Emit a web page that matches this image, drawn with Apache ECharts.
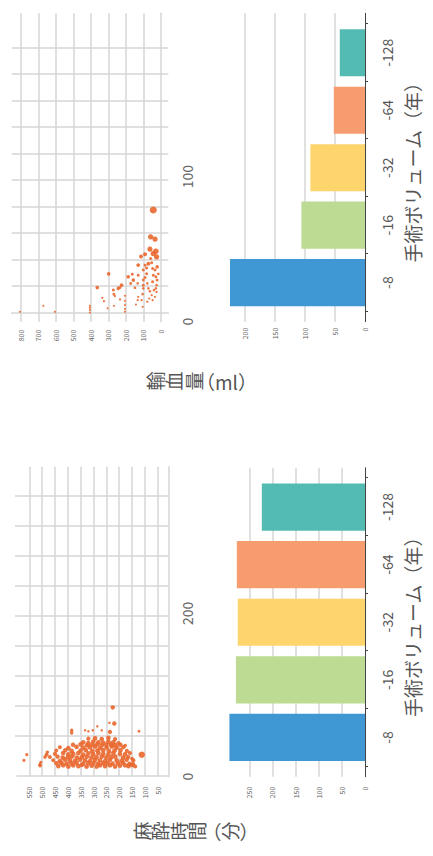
<!DOCTYPE html>
<html>
<head>
<meta charset="utf-8">
<script src="https://cdn.jsdelivr.net/npm/echarts@6/dist/echarts.min.js"></script>
<style>
  html, body { margin: 0; padding: 0; background: #fff; overflow: hidden; }
  /* the chart is laid out landscape (856x433) and turned a quarter to fit the page */
  #main {
    position: absolute; left: 0; top: 0;
    width: 856px; height: 433px;
    transform-origin: 0 0;
    transform: translate(0, 856px) rotate(-90deg);
  }
</style>
</head>
<body>
<div id="main"></div>
<script>
// 手術ボリューム（年）
const volumeCategories = ['-8', '-16', '-32', '-64', '-128'];
// 麻酔時間（分）
const anesthesiaMinutes = [293, 279, 275, 277, 223];
// 輸血量（ml）
const transfusionMl = [225, 106, 91, 52, 42];

const anesthesiaXTicks = [0, 200];
const transfusionXTicks = [0, 100];

// [volume, minutes, cases]
const anesthesiaPoints = [
  [13.5,508,14],[13,437,22],[14,418,22],[12.5,398,22],[14,379,22],[13,359,22],[14.5,346,22],[12.5,327,22],[13.5,307,22],[12.5,288,22],
  [14,275,22],[13,255,22],[14,236,22],[12.5,216,22],[13.5,197,22],[14,177,22],[13,164,22],[14.5,151,22],[12.5,138,18],
  [16.5,445,20],[17,425,22],[16,405,22],[16.5,386,22],[17,366,22],[16,340,22],[16.5,320,22],[17,300,22],[16,282,22],[16.5,262,22],
  [17,245,22],[16,226,22],[16.5,205,22],[17,185,22],[16,160,20],
  [20,457,16],[19,431,22],[21,411,22],[20,392,22],[19.5,372,22],[21,353,22],[20,333,22],[19,314,22],[21,294,22],[20,275,22],
  [19,255,22],[21,236,22],[20,210,22],[19.5,190,22],[21,171,22],[20,145,18],
  [24,470,16],[24.5,440,20],[23.5,420,22],[24,400,22],[24.5,385,22],[23.5,365,22],[24,345,22],[24.5,326,22],[23.5,308,22],[24,288,22],
  [24.5,268,22],[23.5,250,22],[24,230,22],[24.5,215,22],[23.5,185,22],[24,165,20],
  [27,483,16],[28,450,18],[29,418,22],[27.5,398,22],[28,379,22],[29,359,22],[27,340,22],[28.5,320,22],[27.5,301,22],[29,281,22],
  [28,262,22],[27,242,22],[29,223,22],[28,197,22],[27.5,177,22],[29,158,18],
  [32,445,16],[32.5,410,20],[31.5,385,22],[32,350,22],[32.5,330,22],[31.5,305,22],[32,285,22],[32.5,262,22],[31.5,240,22],[32,218,22],
  [32.5,195,22],[31.5,170,18],
  [36,431,16],[35,398,22],[36.5,366,22],[35.5,340,22],[36,314,22],[37,294,22],[35,275,22],[36,249,22],[37,229,22],[35.5,210,22],[36,184,18],
  [39,380,20],[39.5,350,22],[38.5,325,22],[39,305,22],[39.5,285,22],[38.5,268,22],[39,250,22],[39.5,232,22],[38.5,215,22],[39,195,20],
  [42,340,22],[41,320,22],[43,301,22],[42,281,22],[41.5,262,22],[43,242,22],[42,223,22],[41,203,18],
  [46.5,320,18],[47,294,22],[46,268,22],[47.5,242,22],[46,216,18],
  [20,571,10],[27,560,10],[17.7,505,10],[15,509,10],[24,489,12],[30,480,12],[27,112,42],[55.6,123,8],
  [84.8,225,20],[65,219,20],[66,238,6],[54.7,236,20],[56.8,268,6],[61.7,285,6],[56.8,303,6],[55.6,320,6],
  [56.8,333,6],[56.8,385,12],[53.5,385,12],[38,177,14],[22,150,14],[15.6,145,14]
];

// [volume, ml, cases]
const transfusionPoints = [
  [6.9,805,4],[11,671,4],[6.9,605,4],[11,405,4],[9.6,405,4],[8,405,4],[6.4,405,4],
  [23.6,363,13],[16.5,334,5],[14.2,325,5],[33,298,13],[9.2,304,4],
  [19,268,9],[21.8,271,9],[17.7,262,5],[11,268,4],
  [23,243,13],[23.6,233,9],[25.2,224,13],[15.4,233,5],
  [17.9,205,5],[14.4,205,4],[11.5,205,4],[8.7,205,4],[6.9,205,4],
  [31,186,13],[32.8,163,9],[26.4,172,9],[28.7,157,13],[23.4,148,7],[26.4,132,7],[32,129,9],[17.2,129,5],[14.9,132,5],[11.9,142,4],[14.9,110,5],
  [39,129,13],[45,113,16],[46.6,90,16],[35.6,100,9],[28.7,100,9],[25.2,100,9],[23,100,7],[19,104,7],[10.3,104,4],
  [30.5,90,9],[39,90,9],[33,81,9],[37,81,9],[26.4,77,7],[23,71,7],[21,62,7],[40,71,16],
  [50,62,28],[58.5,58,28],[57,33,28],[48.6,28,32],[77,43,50],
  [40.6,52,9],[36.7,47,9],[32,43,9],[27.5,47,9],[35.6,33,9],[31,28,9],[25.2,24,7],[21.8,39,7],[18.3,52,5],[14.9,47,5],
  [16,66,5],[13.8,77,5],[23,28,7],[37.8,21,13],[28.7,21,9],[44.7,24,28],[47,43,28],[43.6,58,9],[17.2,33,5],[20.6,24,5],[33,14,7]
];

const barPalette = ['#3f97d4', '#bedb94', '#fed46d', '#f79c6f', '#54bbb3'];
const dotColor = '#e9672d';
const gridGray = '#d6d6d6';
const axisDark = '#444';
const tickGray = '#666';
const nameGray = '#555';
const FONT = '"Noto Sans CJK JP", "Noto Sans", sans-serif';

const chart = echarts.init(document.getElementById('main'), null, { renderer: 'svg' });

// hidden axis that only draws evenly spaced vertical grid lines
function lineAxis(gridIndex, max) {
  return {
    gridIndex, type: 'value', min: 0, max, interval: 1,
    axisLine: { show: false }, axisTick: { show: false }, axisLabel: { show: false },
    splitLine: { show: true, showMinLine: false, showMaxLine: false, lineStyle: { color: gridGray, width: 1.5 } }
  };
}
function blankAxis(gridIndex, extra) {
  return Object.assign({
    gridIndex, type: 'value', min: 0, max: 1,
    axisLine: { show: false }, axisTick: { show: false }, axisLabel: { show: false }, splitLine: { show: false }
  }, extra || {});
}
function smallValueAxis(gridIndex, min, max, step, margin) {
  return {
    gridIndex, type: 'value', min, max, minInterval: step, maxInterval: step,
    axisLine: { show: false }, axisTick: { show: false },
    axisLabel: { fontSize: 7, color: tickGray, margin, showMinLabel: min !== 0 ? false : true, showMaxLabel: false },
    splitLine: { show: true, showMinLine: false, showMaxLine: false, lineStyle: { color: gridGray, width: 1.5 } }
  };
}
function scatterXAxis(gridIndex, max, step, ticks, offset) {
  return {
    gridIndex, type: 'value', min: 0, max, interval: step, offset,
    axisLine: { show: true, lineStyle: { color: gridGray, width: 1.5 } },
    axisTick: { show: false }, splitLine: { show: false },
    axisLabel: { fontSize: 14, color: tickGray, margin: 12,
      formatter: v => (ticks.indexOf(v) >= 0 ? String(v) : '') }
  };
}
function categoryAxis(gridIndex) {
  return {
    gridIndex, type: 'category', data: volumeCategories,
    axisLine: { show: true, lineStyle: { color: axisDark } },
    axisTick: { show: true, length: 3, lineStyle: { color: axisDark } },
    axisLabel: { fontSize: 14, color: '#555', margin: 15 },
    name: '手術ボリューム（年）', nameLocation: 'middle', nameGap: 38,
    nameTextStyle: { fontSize: 19, color: nameGray }
  };
}

// vertical (tategaki) axis names: upright kanji, sideways brackets / latin
function verticalName(x, glyphs) {
  return glyphs.map(([t, y, side]) => ({
    type: 'text', x, y, rotation: side ? -Math.PI / 2 : 0,
    style: { text: t, fill: nameGray, font: '19px ' + FONT,
      align: 'center', verticalAlign: 'middle', textAlign: 'center', textVerticalAlign: 'middle' }
  }));
}

const option = {
  animation: false,
  backgroundColor: '#fff',
  textStyle: { fontFamily: FONT },
  grid: [
    // 麻酔時間
    { left: 79.3, top: 17, width: 310, height: 151.3 },     // 0 scatter data
    { left: 90, top: 15, width: 300, height: 153.3 },       // 1 scatter vertical lines
    { left: 79.3, top: 228.5, width: 309, height: 136.5 },  // 2 bar frame
    { left: 89.7, top: 228.5, width: 288.1, height: 136.5 },// 3 bar categories
    // 輸血量
    { left: 534.3, top: 11.7, width: 308.4, height: 149.1 },// 4 scatter data
    { left: 542.8, top: 11.7, width: 291.5, height: 156.6 },// 5 scatter vertical lines
    { left: 534.3, top: 225, width: 308.4, height: 140 },   // 6 bar frame
    { left: 544.6, top: 225, width: 287.4, height: 140 }    // 7 bar categories
  ],
  xAxis: [
    scatterXAxis(0, 379.4, 200, anesthesiaXTicks, 0),
    lineAxis(1, 10),
    blankAxis(2, { axisLine: { show: true, lineStyle: { color: axisDark } } }),
    categoryAxis(3),
    scatterXAxis(4, 212.7, 100, transfusionXTicks, 7.5),
    lineAxis(5, 11),
    blankAxis(6, { axisLine: { show: true, lineStyle: { color: axisDark } } }),
    categoryAxis(7)
  ],
  yAxis: [
    Object.assign(smallValueAxis(0, 8.7, 598, 50, 10), {
      axisLine: { show: true, lineStyle: { color: gridGray, width: 1.5 } } }),
    blankAxis(1),
    smallValueAxis(2, 0, 295, 50, 10),
    { gridIndex: 3, type: 'value', min: 0, max: 295, show: false },
    smallValueAxis(4, 0, 852, 100, 8),
    blankAxis(5, { axisLine: { show: true, lineStyle: { color: gridGray, width: 1.5 } }, offset: 8.5 }),
    smallValueAxis(6, 0, 233.3, 50, 6),
    { gridIndex: 7, type: 'value', min: 0, max: 233.3, show: false }
  ],
  series: [
    {
      name: '麻酔時間', type: 'scatter', xAxisIndex: 0, yAxisIndex: 0,
      data: anesthesiaPoints, symbolSize: d => Math.sqrt(d[2]),
      itemStyle: { color: dotColor, opacity: 0.9 }
    },
    {
      name: '麻酔時間', type: 'bar', xAxisIndex: 3, yAxisIndex: 3,
      data: anesthesiaMinutes, barCategoryGap: '18%',
      itemStyle: { color: p => barPalette[p.dataIndex] }
    },
    {
      name: '輸血量', type: 'scatter', xAxisIndex: 4, yAxisIndex: 4,
      data: transfusionPoints, symbolSize: d => Math.sqrt(d[2]),
      itemStyle: { color: dotColor, opacity: 0.9 }
    },
    {
      name: '輸血量', type: 'bar', xAxisIndex: 7, yAxisIndex: 7,
      data: transfusionMl, barCategoryGap: '18%',
      itemStyle: { color: p => barPalette[p.dataIndex] }
    }
  ],
  graphic: [
    ...verticalName(25, [['麻', 141], ['酔', 159.6], ['時', 178.2], ['間', 196.8],
      ['（', 212, 1], ['分', 229.3], ['）', 249, 1]]),
    ...verticalName(475, [['輸', 154], ['血', 173.5], ['量', 193.2], ['（ml）', 226.5, 1]])
  ]
};

chart.setOption(option);
</script>
</body>
</html>
